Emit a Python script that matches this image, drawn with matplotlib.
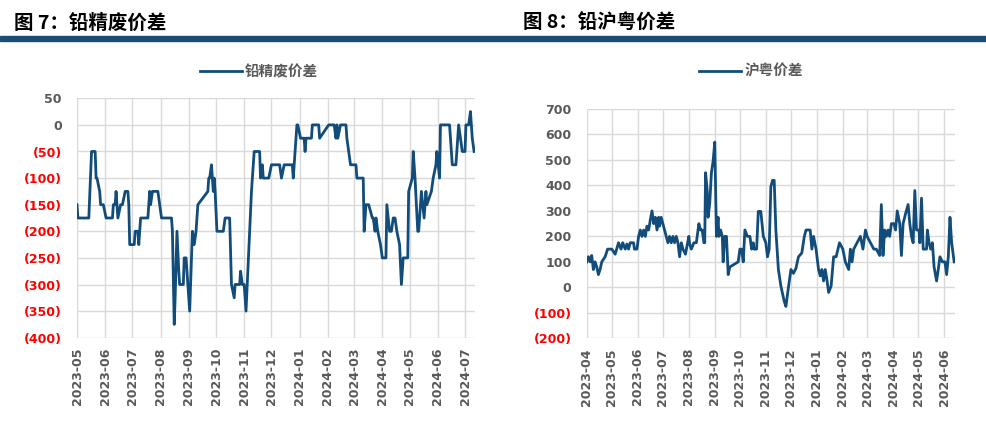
import matplotlib
matplotlib.use('Agg')
import matplotlib.pyplot as plt
import matplotlib.dates as mdates
import pandas as pd
from matplotlib.patches import Rectangle

plt.rcParams['font.family'] = ['DejaVu Sans', 'Noto Sans CJK SC']

# 铅精废价差 (元/吨)
jfl_dates = ['2023-05-01', '2023-05-02', '2023-05-14', '2023-05-17', '2023-05-21', '2023-05-22', '2023-05-23', '2023-05-26', '2023-05-27', '2023-05-30',
             '2023-06-02', '2023-06-09', '2023-06-10', '2023-06-12', '2023-06-13', '2023-06-15', '2023-06-18', '2023-06-20', '2023-06-23', '2023-06-26', '2023-06-27', '2023-06-28',
             '2023-07-03', '2023-07-04', '2023-07-07', '2023-07-08', '2023-07-10', '2023-07-18', '2023-07-19', '2023-07-20', '2023-07-21', '2023-07-23', '2023-07-29', '2023-07-31',
             '2023-08-02', '2023-08-13', '2023-08-14', '2023-08-16', '2023-08-17', '2023-08-19', '2023-08-21', '2023-08-22', '2023-08-26', '2023-08-27', '2023-08-29', '2023-08-31',
             '2023-09-02', '2023-09-05', '2023-09-07', '2023-09-09', '2023-09-11', '2023-09-22', '2023-09-23', '2023-09-24', '2023-09-26', '2023-09-28', '2023-09-29', '2023-09-30',
             '2023-10-02', '2023-10-09', '2023-10-11', '2023-10-16', '2023-10-18', '2023-10-21', '2023-10-22', '2023-10-27', '2023-10-28', '2023-10-30',
             '2023-11-01', '2023-11-03', '2023-11-07', '2023-11-09', '2023-11-12', '2023-11-18', '2023-11-19', '2023-11-21', '2023-11-22', '2023-11-28',
             '2023-12-01', '2023-12-10', '2023-12-12', '2023-12-15', '2023-12-24', '2023-12-25', '2023-12-28', '2023-12-29', '2023-12-30',
             '2024-01-02', '2024-01-06', '2024-01-07', '2024-01-08', '2024-01-14', '2024-01-15', '2024-01-22', '2024-01-23',
             '2024-02-02', '2024-02-08', '2024-02-10', '2024-02-11', '2024-02-12', '2024-02-15', '2024-02-21', '2024-02-22', '2024-02-24', '2024-02-26',
             '2024-03-03', '2024-03-04', '2024-03-11', '2024-03-12', '2024-03-14', '2024-03-17', '2024-03-21', '2024-03-22', '2024-03-24', '2024-03-25', '2024-03-27', '2024-03-30',
             '2024-04-01', '2024-04-05', '2024-04-06', '2024-04-09', '2024-04-11', '2024-04-13', '2024-04-15', '2024-04-17', '2024-04-20', '2024-04-22', '2024-04-24', '2024-04-29', '2024-04-30',
             '2024-05-04', '2024-05-05', '2024-05-07', '2024-05-10', '2024-05-11', '2024-05-14', '2024-05-17', '2024-05-19', '2024-05-20', '2024-05-25', '2024-05-27', '2024-05-30', '2024-05-31',
             '2024-06-03', '2024-06-04', '2024-06-14', '2024-06-16', '2024-06-17', '2024-06-21', '2024-06-24', '2024-06-28',
             '2024-07-01', '2024-07-02', '2024-07-05', '2024-07-07', '2024-07-09', '2024-07-11']
jfl_values = [-150, -175, -175, -50, -50, -100, -100, -125, -150, -150,
              -175, -175, -150, -150, -125, -175, -150, -150, -125, -125, -150, -225,
              -225, -200, -200, -225, -175, -175, -150, -125, -150, -125, -125, -150,
              -175, -175, -200, -375, -325, -200, -275, -300, -300, -250, -250, -300,
              -350, -200, -225, -200, -150, -125, -100, -100, -75, -125, -100, -125,
              -200, -200, -175, -175, -300, -325, -300, -300, -275, -300,
              -300, -350, -200, -125, -50, -50, -100, -75, -100, -100,
              -75, -75, -100, -75, -75, -100, -25, 0, 0,
              -25, -25, -50, -25, -25, 0, 0, -25,
              0, 0, -25, 0, -25, 0, 0, -25, -50, -75,
              -75, -100, -100, -200, -150, -150, -175, -175, -200, -175, -200, -225,
              -250, -250, -150, -200, -200, -175, -175, -200, -225, -300, -250, -250, -125,
              -100, -50, -100, -200, -200, -125, -175, -125, -150, -125, -100, -75, -50,
              -100, 0, 0, -50, -75, -75, 0, -50,
              -50, 0, 0, 25, -25, -50]

# 沪粤价差 (元/吨)
hy_dates = ['2023-04-01', '2023-04-03', '2023-04-05', '2023-04-07', '2023-04-09', '2023-04-11', '2023-04-13', '2023-04-15', '2023-04-17', '2023-04-19', '2023-04-23', '2023-04-26',
            '2023-05-01', '2023-05-05', '2023-05-09', '2023-05-12', '2023-05-14', '2023-05-17', '2023-05-19', '2023-05-21', '2023-05-23', '2023-05-27', '2023-05-28', '2023-05-31',
            '2023-06-02', '2023-06-04', '2023-06-06', '2023-06-08', '2023-06-10', '2023-06-12', '2023-06-14', '2023-06-16', '2023-06-18', '2023-06-20', '2023-06-22', '2023-06-24', '2023-06-26', '2023-06-27', '2023-06-29',
            '2023-07-01', '2023-07-05', '2023-07-07', '2023-07-09', '2023-07-11', '2023-07-13', '2023-07-15', '2023-07-17', '2023-07-19', '2023-07-21', '2023-07-23', '2023-07-25', '2023-07-28',
            '2023-08-01', '2023-08-02', '2023-08-04', '2023-08-07', '2023-08-10', '2023-08-13', '2023-08-15', '2023-08-17', '2023-08-19', '2023-08-20', '2023-08-21', '2023-08-23', '2023-08-24', '2023-08-26', '2023-08-28', '2023-08-30',
            '2023-09-01', '2023-09-03', '2023-09-05', '2023-09-06', '2023-09-08', '2023-09-10', '2023-09-11', '2023-09-13', '2023-09-15', '2023-09-17', '2023-09-19', '2023-09-29',
            '2023-10-01', '2023-10-03', '2023-10-05', '2023-10-07', '2023-10-10', '2023-10-13', '2023-10-15', '2023-10-17', '2023-10-18', '2023-10-21', '2023-10-23', '2023-10-26', '2023-10-29',
            '2023-11-01', '2023-11-03', '2023-11-05', '2023-11-07', '2023-11-09', '2023-11-11', '2023-11-13', '2023-11-16', '2023-11-19', '2023-11-23', '2023-11-25', '2023-11-28',
            '2023-12-01', '2023-12-04', '2023-12-07', '2023-12-10', '2023-12-14', '2023-12-17', '2023-12-19', '2023-12-24', '2023-12-26', '2023-12-28', '2023-12-31',
            '2024-01-03', '2024-01-05', '2024-01-07', '2024-01-09', '2024-01-11', '2024-01-13', '2024-01-15', '2024-01-18', '2024-01-21', '2024-01-24', '2024-01-28',
            '2024-02-01', '2024-02-04', '2024-02-08', '2024-02-10', '2024-02-12', '2024-02-14', '2024-02-18', '2024-02-22', '2024-02-25', '2024-02-28',
            '2024-03-01', '2024-03-05', '2024-03-09', '2024-03-12', '2024-03-16', '2024-03-18', '2024-03-20', '2024-03-22', '2024-03-24', '2024-03-26', '2024-03-28', '2024-03-30',
            '2024-04-02', '2024-04-04', '2024-04-06', '2024-04-09', '2024-04-11', '2024-04-13', '2024-04-16', '2024-04-19', '2024-04-21', '2024-04-23', '2024-04-25', '2024-04-27', '2024-04-29',
            '2024-05-02', '2024-05-03', '2024-05-05', '2024-05-07', '2024-05-11', '2024-05-12', '2024-05-14', '2024-05-16', '2024-05-18', '2024-05-20', '2024-05-23', '2024-05-25', '2024-05-27', '2024-05-30',
            '2024-06-02', '2024-06-04', '2024-06-06', '2024-06-08', '2024-06-10', '2024-06-11', '2024-06-13']
hy_values = [100, 120, 100, 125, 70, 100, 80, 50, 70, 100, 120, 150,
             150, 130, 175, 150, 175, 150, 170, 150, 175, 175, 150, 150,
             200, 225, 200, 225, 200, 240, 225, 265, 300, 250, 275, 225, 275, 240, 275,
             250, 200, 175, 200, 175, 200, 175, 200, 175, 120, 175, 150, 130,
             200, 170, 150, 175, 175, 250, 225, 225, 175, 175, 450, 380, 275, 330, 450, 495,
             570, 200, 275, 200, 225, 200, 100, 200, 200, 50, 80, 100,
             150, 150, 100, 225, 200, 200, 150, 175, 150, 150, 298, 298, 200,
             175, 120, 150, 395, 420, 420, 225, 70, 5, -55, -75, 0,
             70, 55, 75, 120, 135, 200, 225, 225, 150, 200, 150,
             70, 45, 70, 25, 70, 30, -20, 5, 120, 120, 175,
             150, 100, 70, 150, 100, 150, 175, 200, 150, 225,
             200, 175, 150, 150, 125, 325, 125, 225, 200, 225, 200, 250,
             250, 225, 300, 250, 125, 250, 290, 325, 250, 200, 175, 380, 225,
             225, 175, 350, 150, 150, 225, 175, 150, 175, 80, 25, 70, 120, 100,
             100, 50, 120, 275, 175, 150, 100]

LINE = '#114C7A'
GRAY = '#595959'
RED = '#FF0000'
CJK = 'Noto Sans CJK SC'

fig = plt.figure(figsize=(9.87, 4.23), dpi=100)

# dark blue bar under the titles
fig.patches.append(Rectangle((0, 1 - 41 / 423), 1, 5 / 423, transform=fig.transFigure,
                             color='#1B4E75', zorder=0))
fig.text(14 / 987, 1 - 23 / 423, '图 7：铅精废价差', family=CJK, weight='bold', fontsize=14,
         color='black', va='center', ha='left')
fig.text(523 / 987, 1 - 23 / 423, '图 8：铅沪粤价差', family=CJK, weight='bold', fontsize=14,
         color='black', va='center', ha='left')


def neg_fmt(v, pos=None):
    v = int(round(v))
    return '(%d)' % abs(v) if v < 0 else '%d' % v


def draw_panel(rect, dates, values, xlim, yticks, label, legend_x):
    ax = fig.add_axes(rect)
    ax.plot(pd.to_datetime(dates), values, color=LINE, lw=2.0, label=label)
    ax.set_xlim(pd.Timestamp(xlim[0]), pd.Timestamp(xlim[1]))
    ax.set_ylim(yticks[0], yticks[-1])
    ax.set_yticks(yticks)
    ax.yaxis.set_major_formatter(plt.FuncFormatter(neg_fmt))
    ax.xaxis.set_major_locator(mdates.MonthLocator())
    ax.xaxis.set_major_formatter(mdates.DateFormatter('%Y-%m'))
    ax.grid(True, color='#D9D9D9', lw=1)
    ax.set_axisbelow(True)
    for s in ax.spines.values():
        s.set_visible(False)
    ax.tick_params(axis='both', length=0, labelsize=9, labelcolor=GRAY)
    ax.tick_params(axis='y', pad=11)
    ax.tick_params(axis='x', pad=7)
    for lbl in ax.get_xticklabels():
        lbl.set_rotation(90)
        lbl.set_fontweight('bold')
    for lbl, v in zip(ax.get_yticklabels(), yticks):
        lbl.set_fontweight('bold')
        lbl.set_color(RED if v < 0 else GRAY)
    ax.legend(loc='center', bbox_to_anchor=(legend_x, 1 - 71 / 423), bbox_transform=fig.transFigure,
              frameon=False, handlelength=2.9, handletextpad=0.2,
              prop={'family': CJK, 'weight': 'bold', 'size': 10.5}, labelcolor=GRAY)
    return ax


draw_panel([77 / 987, 85.3 / 423, 398 / 987, 239.4 / 423], jfl_dates, jfl_values,
           ('2023-05-01', '2024-07-12'), list(range(-400, 51, 50)), '铅精废价差', 259 / 987)
draw_panel([586.7 / 987, 84.7 / 423, 368.3 / 987, 229.3 / 423], hy_dates, hy_values,
           ('2023-04-01', '2024-06-14'), list(range(-200, 701, 100)), '沪粤价差', 751 / 987)

fig.savefig('out.png', dpi=100)
